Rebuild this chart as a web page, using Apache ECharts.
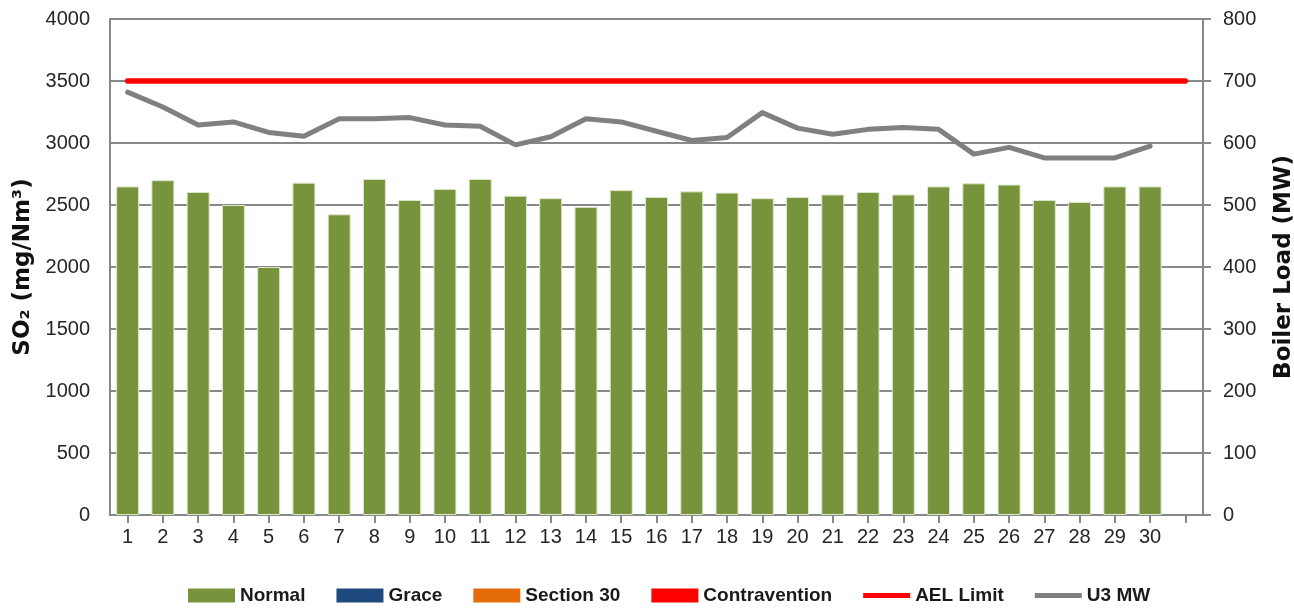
<!DOCTYPE html>
<html>
<head>
<meta charset="utf-8">
<script src="https://cdn.jsdelivr.net/npm/echarts@6/dist/echarts.min.js"></script>
<style>
  html, body { margin: 0; padding: 0; background: #fff; }
  #chart { width: 1294px; height: 610px; }
</style>
</head>
<body>
<div id="chart"></div>
<script>
'use strict'
// days of the month, plus one empty slot at the end of the axis
var days = ['1','2','3','4','5','6','7','8','9','10','11','12','13','14','15',
  '16','17','18','19','20','21','22','23','24','25','26','27','28','29','30',''];

var normal = [2650, 2700, 2605, 2500, 2000, 2680, 2425, 2710, 2540, 2630,
  2710, 2575, 2555, 2485, 2620, 2565, 2610, 2600, 2555, 2565,
  2585, 2605, 2585, 2650, 2675, 2665, 2540, 2525, 2650, 2650];
var grace = [];
var section30 = [];
var contravention = [];
var aelLimit = [3500, 3500, 3500, 3500, 3500, 3500, 3500, 3500, 3500, 3500,
  3500, 3500, 3500, 3500, 3500, 3500, 3500, 3500, 3500, 3500,
  3500, 3500, 3500, 3500, 3500, 3500, 3500, 3500, 3500, 3500, 3500];
var u3MW = [682, 658, 629, 634, 617, 611, 639, 639, 641, 629,
  627, 597, 610, 639, 634, 619, 604, 609, 649, 624,
  614, 622, 625, 622, 582, 593, 576, 576, 576, 595];

var leftTicks = { min: 0, max: 4000, interval: 500 };
var rightTicks = { min: 0, max: 800, interval: 100 };

var chart = echarts.init(document.getElementById('chart'));

var tickFont = { fontFamily: '"Liberation Sans", Arial, sans-serif', fontSize: 20, color: '#262626' };
var nameFont = { fontFamily: '"DejaVu Sans", sans-serif', fontWeight: 'bold', fontSize: 23, color: '#111' };
var gridColor = '#888888';
var plain = function (v) { return String(v); };
// thin band icon for the line series in the legend
var lineIcon = 'path://M0,0 M47,14 M0,4.5 L47,4.5 L47,9.5 L0,9.5 Z';

chart.setOption({
  animation: false,
  color: ['#77933C', '#1F497D', '#E46C0A', '#FF0000', '#FF0000', '#808080'],
  grid: { left: 110, right: 91, top: 19, bottom: 95, containLabel: false, outerBoundsMode: 'none' },
  legend: {
    top: 581,
    left: 183,
    itemWidth: 47,
    itemHeight: 14,
    itemGap: 31,
    itemStyle: { borderWidth: 0 },
    textStyle: {
      fontFamily: '"Liberation Sans", Arial, sans-serif',
      fontWeight: 'bold',
      fontSize: 19,
      color: '#1a1a1a'
    },
    data: [
      { name: 'Normal', icon: 'rect' },
      { name: 'Grace', icon: 'rect' },
      { name: 'Section 30', icon: 'rect' },
      { name: 'Contravention', icon: 'rect' },
      { name: 'AEL Limit', icon: lineIcon },
      { name: 'U3 MW', icon: lineIcon }
    ]
  },
  xAxis: {
    type: 'category',
    data: days,
    boundaryGap: true,
    axisLine: { lineStyle: { color: gridColor, width: 2 } },
    axisTick: { show: true, alignWithLabel: true, length: 8, lineStyle: { color: gridColor, width: 2 } },
    axisLabel: Object.assign({ margin: 12, interval: 0 }, tickFont)
  },
  yAxis: [
    {
      type: 'value',
      min: leftTicks.min, max: leftTicks.max, interval: leftTicks.interval,
      name: 'SO\u2082 (mg/Nm\u00B3)',
      nameLocation: 'middle',
      nameRotate: 90,
      nameGap: 69,
      nameTextStyle: nameFont,
      axisLine: { show: true, lineStyle: { color: gridColor, width: 2 } },
      axisTick: { show: false },
      axisLabel: Object.assign({ margin: 20, formatter: plain }, tickFont),
      splitLine: { show: true, lineStyle: { color: gridColor, width: 2 } }
    },
    {
      type: 'value',
      position: 'right',
      min: rightTicks.min, max: rightTicks.max, interval: rightTicks.interval,
      name: 'Boiler Load (MW)',
      nameLocation: 'middle',
      nameRotate: 90,
      nameGap: 70,
      nameTextStyle: nameFont,
      axisLine: { show: true, lineStyle: { color: gridColor, width: 2 } },
      axisTick: { show: true, length: 8, lineStyle: { color: gridColor, width: 2 } },
      axisLabel: Object.assign({ margin: 20, formatter: plain }, tickFont),
      splitLine: { show: false }
    }
  ],
  series: [
    { name: 'Normal', type: 'bar', stack: 'so2', barWidth: 23, data: normal,
      itemStyle: { borderColor: '#dfe8cc', borderWidth: 1 } },
    { name: 'Grace', type: 'bar', stack: 'so2', data: grace },
    { name: 'Section 30', type: 'bar', stack: 'so2', data: section30 },
    { name: 'Contravention', type: 'bar', stack: 'so2', data: contravention },
    { name: 'AEL Limit', type: 'line', data: aelLimit, symbol: 'none', z: 4,
      lineStyle: { color: '#FF0000', width: 5.5, cap: 'round' } },
    { name: 'U3 MW', type: 'line', yAxisIndex: 1, data: u3MW, symbol: 'none', z: 3,
      lineStyle: { color: '#808080', width: 5, cap: 'round', join: 'round' } }
  ]
});
</script>
</body>
</html>
